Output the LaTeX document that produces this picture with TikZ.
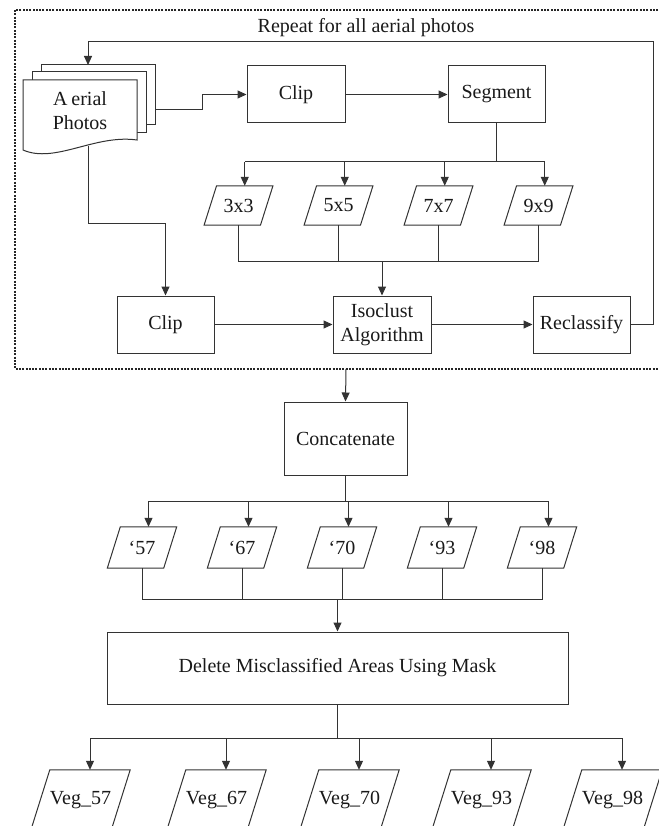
\documentclass[tikz,border=0pt]{standalone}
\usepackage{fontspec}
\setmainfont{Liberation Serif}
\usetikzlibrary{arrows.meta}
\newcommand\slantframe[2]{% node name, half of the horizontal slant
  \draw[ink] ([xshift=-#2]#1.south west) -- ([xshift=#2]#1.north west)
    -- ([xshift=#2]#1.north east) -- ([xshift=-#2]#1.south east) -- cycle;
  \coordinate (#1t) at ([xshift=#2]#1.north);}
\begin{document}
\begin{tikzpicture}[x=1pt,y=-1pt,
  ink/.style={draw=black!80, line width=1pt},
  arr/.style={ink, -{Triangle[width=8pt,length=9pt]}},
  txt/.style={inner sep=0pt, align=center, text=black!90,
              font=\fontsize{20}{24}\selectfont},
  box/.style={txt, ink, rectangle, minimum width=#1, minimum height=57pt},
  box/.default=97pt,
  small/.style={txt, minimum width=56pt, minimum height=#1},
  veg/.style={txt, minimum width=80pt, minimum height=60pt}
]
\useasboundingbox (0,0) rectangle (658,826);

% dotted frame around the per-photo loop
\draw[black!85, line width=2pt, dash pattern=on 2pt off 1.3pt] (15,10) rectangle (664,369);
\coordinate (frameB) at (346,369);
\node[txt] (repeat) at (366,28) {Repeat for all aerial photos};

% stacked aerial photo sheets
\draw[ink, fill=white] (41,65) rectangle (155,125);
\draw[ink, fill=white] (32,72) rectangle (146,133);
\draw[ink, fill=white] (23,80) -- (137,80) -- (137,140)
  .. controls (95,134) and (55,164) .. (23,150) -- cycle;
\node[txt] (photos) at (80,111) {A\kern4pt erial\\Photos};
\coordinate (docT) at (88,65);
\coordinate (docR) at (155,110);
\coordinate (docB) at (88,146);

% processing boxes
\node[box=98pt] (clipA) at (296,94.5) {Clip};
\node[box] (seg) at (496.5,94.5) {Segment};
\node[box] (clipB) at (165.5,324.5) {Clip};
\node[box=98pt] (iso) at (382,324.5) {Isoclust\\Algorithm};
\node[box] (recl) at (581.5,324.5) {Reclassify};

% window sizes
\node[small=39pt] (k3) at (238.5,205.5) {3x3}; \slantframe{k3}{6.25pt}
\node[small=39pt] (k5) at (338.5,205.5) {5x5}; \slantframe{k5}{6.25pt}
\node[small=39pt] (k7) at (438.5,205.5) {7x7}; \slantframe{k7}{6.25pt}
\node[small=39pt] (k9) at (538.5,205.5) {9x9}; \slantframe{k9}{6.25pt}

\coordinate (bus1) at (0,162);
\coordinate (bus2) at (0,261);
\coordinate (jog) at (202,0);
\coordinate (low) at (0,224);

% photo to first clip
\draw[arr] (docR) -- (docR -| jog) |- (clipA.west);
\draw[arr] (clipA) -- (seg);
% segment fan-out
\draw[ink] (seg.south) -- (seg.south |- bus1);
\draw[ink] (k3t |- bus1) -- (k9t |- bus1);
\foreach \n in {k3,k5,k7,k9} \draw[arr] (\n t |- bus1) -- (\n t);
% window merge
\draw[ink] (k3.south) -- (k3.south |- bus2) -- (k9.south |- bus2) -- (k9.south);
\draw[ink] (k5.south) -- (k5.south |- bus2);
\draw[ink] (k7.south) -- (k7.south |- bus2);
\draw[arr] (iso.north |- bus2) -- (iso.north);
% photo to second clip
\draw[arr] (docB) -- (docB |- low) -| (clipB.north);
\draw[arr] (clipB) -- (iso);
\draw[arr] (iso) -- (recl);
% loop back
\coordinate (loopR) at (653,42);
\draw[arr] (recl.east) -- (recl.east -| loopR) -- (loopR) -- (loopR -| docT) -- (docT);

% after the loop
\node[txt, ink, minimum width=123pt, minimum height=73pt] (cat) at (345.5,438.5) {Concatenate};
\draw[arr] (frameB) -- (cat.north);

\node[small=41pt] (y57) at (142,547.5) {‘57}; \slantframe{y57}{6.5pt}
\node[small=41pt] (y67) at (242,547.5) {‘67}; \slantframe{y67}{6.5pt}
\node[small=41pt] (y70) at (342,547.5) {‘70}; \slantframe{y70}{6.5pt}
\node[small=41pt] (y93) at (442,547.5) {‘93}; \slantframe{y93}{6.5pt}
\node[small=41pt] (y98) at (542,547.5) {‘98}; \slantframe{y98}{6.5pt}

\coordinate (bus3) at (0,501);
\coordinate (bus4) at (0,599);
\coordinate (bus5) at (0,738);

\draw[ink] (cat.south) -- (cat.south |- bus3);
\draw[ink] (y57t |- bus3) -- (y98t |- bus3);
\foreach \n in {y57,y67,y70,y93,y98} \draw[arr] (\n t |- bus3) -- (\n t);

\node[txt, ink, minimum width=461pt, minimum height=72pt] (del) at (337.5,668) {Delete Misclassified Areas Using Mask};

\draw[ink] (y57.south) -- (y57.south |- bus4) -- (y98.south |- bus4) -- (y98.south);
\foreach \n in {y67,y70,y93} \draw[ink] (\n.south) -- (\n.south |- bus4);
\draw[arr] (del.north |- bus4) -- (del.north);

\node[veg] (v57) at (80.5,800) {Veg\_57}; \slantframe{v57}{9.5pt}
\node[veg] (v67) at (216.5,800) {Veg\_67}; \slantframe{v67}{9.5pt}
\node[veg] (v70) at (349.5,800) {Veg\_70}; \slantframe{v70}{9.5pt}
\node[veg] (v93) at (481.5,800) {Veg\_93}; \slantframe{v93}{9.5pt}
\node[veg] (v98) at (612.5,800) {Veg\_98}; \slantframe{v98}{9.5pt}

\draw[ink] (del.south) -- (del.south |- bus5);
\draw[ink] (v57t |- bus5) -- (v98t |- bus5);
\foreach \n in {v57,v67,v70,v93,v98} \draw[arr] (\n t |- bus5) -- (\n t);
\end{tikzpicture}
\end{document}
